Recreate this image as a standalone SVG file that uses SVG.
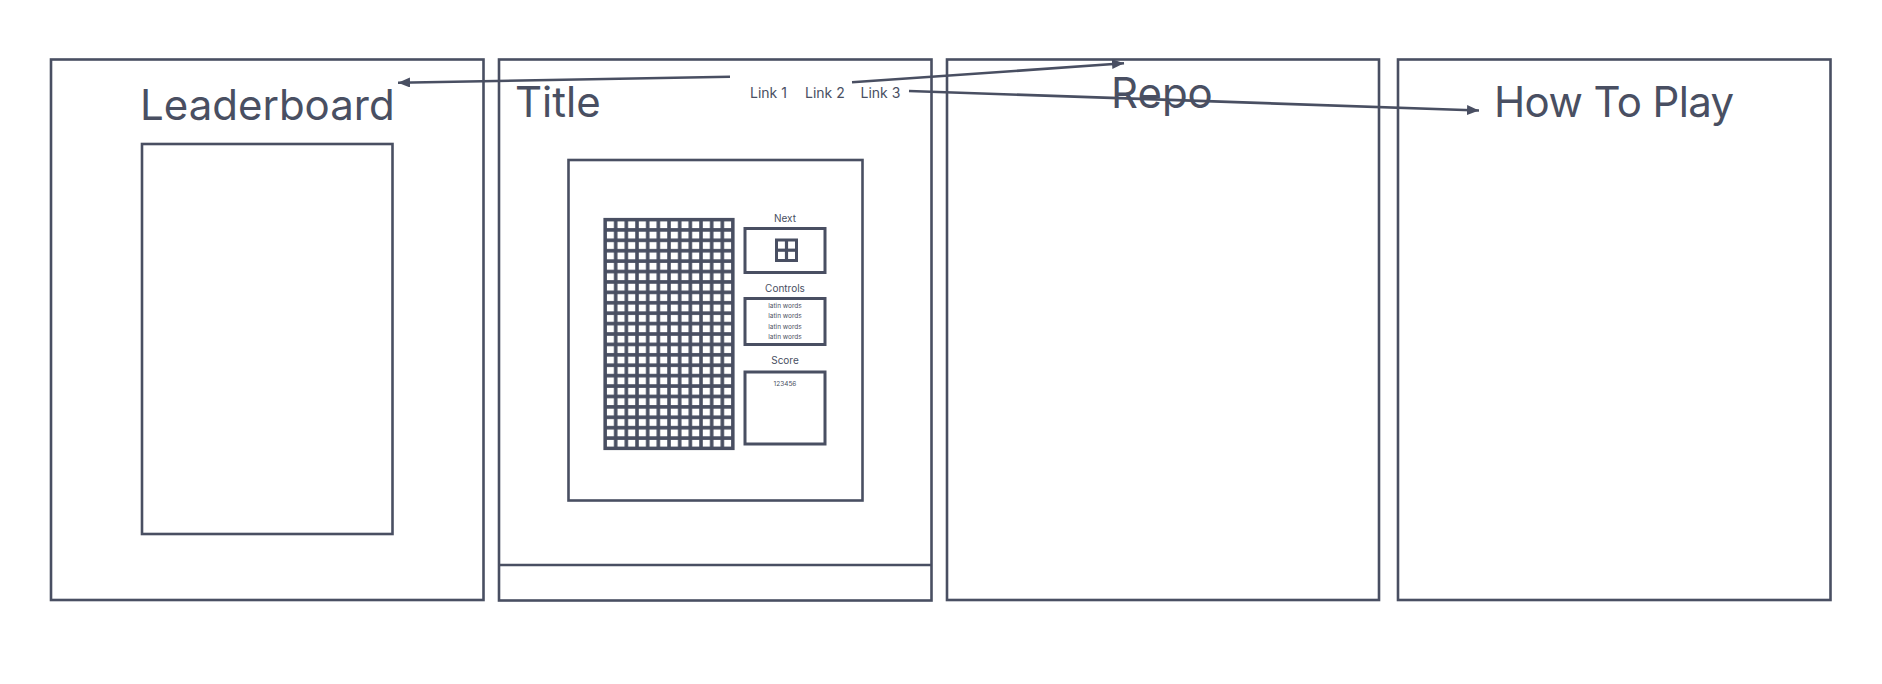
<svg xmlns="http://www.w3.org/2000/svg" width="1882" height="684" viewBox="0 0 1882 684">
<style>
.box{fill:none;stroke:#494f62;stroke-width:2.6}
.pbox{fill:#fff;stroke:#494f62;stroke-width:3}
.t{font-family:Inter,"Liberation Sans",sans-serif;fill:#494f62}
.big{font-size:42px}
.lnk{font-size:14px}
.lab{font-size:10px}
.tiny{font-size:6.5px}
.conn{fill:none;stroke:#494f62;stroke-width:2.6}
.grid{fill:none;stroke:#494f62;stroke-width:3.2}
</style>
<defs>
<marker id="ah" markerUnits="userSpaceOnUse" markerWidth="14" markerHeight="12" refX="12" refY="5" orient="auto">
<path d="M0,0 L12,5 L0,10 z" fill="#494f62"/>
</marker>
<pattern id="cells" patternUnits="userSpaceOnUse" x="605" y="219.5" width="10.667" height="10.41">
<rect x="0" y="0" width="10.667" height="10.41" fill="#494f62"/>
<rect x="1.8" y="1.8" width="7.1" height="6.8" fill="#fff"/>
</pattern>
</defs>
<rect width="1882" height="684" fill="#fff"/>
<g id="leaderboard">
<rect class="box" x="51" y="59.5" width="432.5" height="540.5"/>
<text class="t big" x="140" y="120">Leaderboard</text>
<rect class="box" x="142" y="144" width="250.5" height="390"/>
</g>
<g id="main">
<rect class="box" x="499" y="59.5" width="432.5" height="541"/>
<line class="box" x1="499" y1="565" x2="931.5" y2="565"/>
<text class="t big" x="515" y="116.7">Title</text>
<text class="t lnk" x="750" y="98.3">Link 1</text>
<text class="t lnk" x="805" y="98.3">Link 2</text>
<text class="t lnk" x="860.5" y="98.3">Link 3</text>
<rect class="box" x="568.5" y="160" width="294" height="340.5"/>
<g id="board">
<rect x="605" y="219.5" width="128" height="229" fill="url(#cells)"/>
<rect class="grid" x="605" y="219.5" width="128" height="229"/>
</g>
<g id="next">
<text class="t lab" x="785" y="221.7" text-anchor="middle">Next</text>
<rect class="pbox" x="745" y="228.5" width="80" height="44"/>
<rect class="pbox" x="776.5" y="240" width="20" height="20.5"/>
<line class="grid" x1="786.5" y1="240" x2="786.5" y2="260.5"/>
<line class="grid" x1="776.5" y1="250.2" x2="796.5" y2="250.2"/>
</g>
<g id="controls">
<text class="t lab" x="785" y="291.5" text-anchor="middle">Controls</text>
<rect class="pbox" x="745" y="298.5" width="80" height="46"/>
<text class="t tiny" x="785" y="308.3" text-anchor="middle">latin words</text>
<text class="t tiny" x="785" y="318.3" text-anchor="middle">latin words</text>
<text class="t tiny" x="785" y="329" text-anchor="middle">latin words</text>
<text class="t tiny" x="785" y="339" text-anchor="middle">latin words</text>
</g>
<g id="score">
<text class="t lab" x="785" y="364" text-anchor="middle">Score</text>
<rect class="pbox" x="745" y="372" width="80" height="72"/>
<text class="t tiny" x="785" y="386" text-anchor="middle">123456</text>
</g>
</g>
<g id="repo">
<rect class="box" x="947" y="59.5" width="432" height="540.5"/>
<text class="t big" x="1111" y="108.3">Repo</text>
</g>
<g id="howtoplay">
<rect class="box" x="1398" y="59.5" width="432.5" height="540.5"/>
<text class="t big" x="1494" y="116.7" letter-spacing="-0.6">How To Play</text>
</g>
<g id="connectors">
<line class="conn" x1="730" y1="76.7" x2="398" y2="82.7" marker-end="url(#ah)"/>
<line class="conn" x1="852" y1="82.3" x2="1124" y2="63.3" marker-end="url(#ah)"/>
<line class="conn" x1="909" y1="91" x2="1479" y2="110.5" marker-end="url(#ah)"/>
</g>
</svg>
